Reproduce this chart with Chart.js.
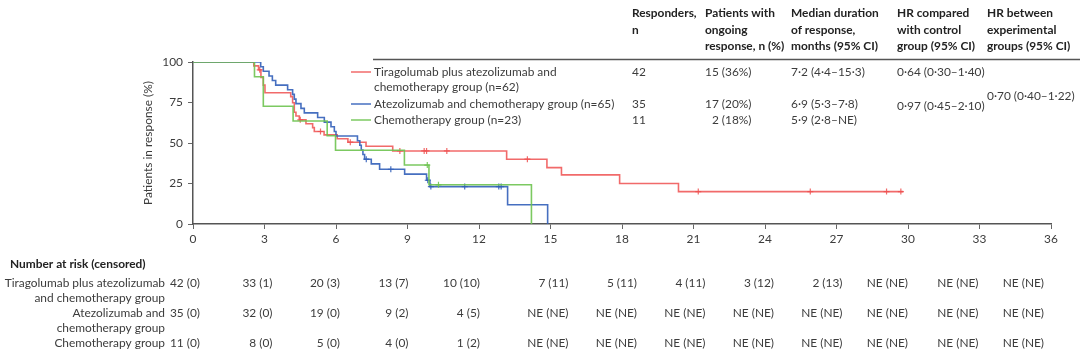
<!DOCTYPE html>
<html>
<head>
<meta charset="utf-8">
<script src="https://cdn.jsdelivr.net/npm/chart.js@4/dist/chart.umd.min.js"></script>
<style>
  html, body { margin: 0; padding: 0; background: #fff; }
  #wrap { width: 1080px; height: 361px; }
</style>
</head>
<body>
<div id="wrap"><canvas id="km" width="1080" height="361"></canvas></div>
<script>
// Kaplan-Meier steps (months, % still in response)
var tiraTime = [0, 2.55, 2.75, 2.85, 2.95, 3.02, 4.1, 4.18, 4.25, 4.32, 4.46, 4.74, 5.02, 5.09, 5.5, 6.05, 6.5, 7.26, 8.38, 13.16, 14.85, 15.46, 17.9, 20.37, 29.8];
var tiraPct  = [100, 97.6, 95.2, 90.5, 85.7, 81.0, 78.6, 74.8, 69.0, 66.7, 64.3, 61.9, 59.5, 57.1, 55.0, 52.6, 50.5, 48.0, 45.1, 40.0, 34.8, 30.3, 25.0, 20.0, 20.0];
var tiraCensTime = [2.8, 4.5, 5.35, 6.6, 8.68, 9.7, 9.8, 10.65, 14.03, 21.2, 25.9, 29.1, 29.7];
var tiraCensPct  = [95.2, 64.3, 57.1, 50.5, 45.1, 45.1, 45.1, 45.1, 40.0, 20.0, 20.0, 20.0, 20.0];

var atezoTime = [0, 2.84, 2.95, 3.19, 3.33, 3.47, 3.97, 4.18, 4.25, 4.32, 4.53, 4.67, 5.23, 5.51, 5.79, 5.93, 6.0, 6.9, 7.0, 7.06, 7.13, 7.2, 7.48, 7.83, 8.88, 9.8, 9.94, 13.2, 14.88];
var atezoPct  = [100, 97.1, 94.3, 91.4, 88.6, 85.7, 82.9, 80.0, 77.1, 74.3, 71.4, 68.6, 65.7, 62.9, 60.0, 57.1, 54.3, 51.4, 48.6, 45.7, 42.9, 40.0, 37.1, 33.8, 30.8, 27.0, 23.1, 11.9, 0];
var atezoCensTime = [7.27, 8.3, 9.85, 9.98, 11.4, 12.83, 12.93];
var atezoCensPct  = [40.0, 33.8, 27.0, 23.1, 23.1, 23.1, 23.1];

var chemoTime = [0, 2.58, 2.95, 4.2, 5.63, 5.98, 8.87, 9.9, 14.2];
var chemoPct  = [100, 90.9, 72.7, 63.6, 54.5, 45.5, 36.4, 24.2, 0];
var chemoCensTime = [9.83, 10.3];
var chemoCensPct  = [36.4, 24.2];

var riskTimes = [0, 3, 6, 9, 12, 15, 18, 21, 24, 27, 30, 33, 36];
var riskTira  = ['42 (0)', '33 (1)', '20 (3)', '13 (7)', '10 (10)', '7 (11)', '5 (11)', '4 (11)', '3 (12)', '2 (13)', 'NE (NE)', 'NE (NE)', 'NE (NE)'];
var riskAtezo = ['35 (0)', '32 (0)', '19 (0)', '9 (2)', '4 (5)', 'NE (NE)', 'NE (NE)', 'NE (NE)', 'NE (NE)', 'NE (NE)', 'NE (NE)', 'NE (NE)', 'NE (NE)'];
var riskChemo = ['11 (0)', '8 (0)', '5 (0)', '4 (0)', '1 (2)', 'NE (NE)', 'NE (NE)', 'NE (NE)', 'NE (NE)', 'NE (NE)', 'NE (NE)', 'NE (NE)', 'NE (NE)'];

var groupNames = ['Tiragolumab plus atezolizumab and|chemotherapy group (n=62)', 'Atezolizumab and chemotherapy group (n=65)', 'Chemotherapy group (n=23)'];
var responders = ['42', '35', '11'];
var ongoing    = ['15 (36%)', '17 (20%)', '\u20072 (18%)'];
var medianDur  = ['7\u00b72 (4\u00b74\u201315\u00b73)', '6\u00b79 (5\u00b73\u20137\u00b78)', '5\u00b79 (2\u00b78\u2013NE)'];
var hrControl  = ['0\u00b764 (0\u00b730\u20131\u00b740)', '0\u00b797 (0\u00b745\u20132\u00b710)', ''];
var hrBetween  = '0\u00b770 (0\u00b740\u20131\u00b722)';

var colRed = 'rgba(238, 80, 80, 0.85)';
var colBlue = 'rgba(50, 95, 185, 0.9)';
var colGreen = 'rgba(110, 195, 80, 0.9)';
var textCol = '#3c3c3c';
var family = 'Lato, "Liberation Sans", sans-serif';

// size the font so the first legend line is as wide as in the figure
var probe = document.createElement('canvas').getContext('2d');
probe.font = '100px ' + family;
var fs = 100 * 183 / probe.measureText('Tiragolumab plus atezolizumab and').width;
fs = Math.round(fs * 10) / 10;

function pts(t, p) {
    var out = [];
    for (var i = 0; i < t.length; i++) out.push({x: t[i], y: p[i]});
    return out;
}

function txt(ctx, s, x, y, align, bold, col) {
    ctx.font = (bold ? 'bold ' : '') + fs + 'px ' + family;
    ctx.fillStyle = col || textCol;
    ctx.textAlign = align || 'left';
    ctx.textBaseline = 'middle';
    ctx.fillText(s, x, y);
}

var extras = {
    id: 'extras',
    afterDraw: function(chart) {
        var ctx = chart.ctx;
        var xs = chart.scales.x;
        ctx.save();

        // y title
        ctx.save();
        ctx.translate(148, 143);
        ctx.rotate(-Math.PI / 2);
        txt(ctx, 'Patients in response (%)', 0, 0, 'center', false);
        ctx.restore();

        // header of the summary table
        var cx = [632, 705, 791, 897, 987];
        var heads = [
            ['Responders,', 'n'],
            ['Patients with', 'ongoing', 'response, n (%)'],
            ['Median duration', 'of response,', 'months (95% CI)'],
            ['HR compared', 'with control', 'group (95% CI)'],
            ['HR between', 'experimental', 'groups (95% CI)']
        ];
        var hy = [13, 30, 46];
        heads.forEach(function(h, i) {
            h.forEach(function(line, j) { txt(ctx, line, cx[i], hy[j], 'left', true, '#222'); });
        });
        ctx.strokeStyle = '#555';
        ctx.lineWidth = 1.5;
        ctx.beginPath();
        ctx.moveTo(373, 59.5);
        ctx.lineTo(1080, 59.5);
        ctx.stroke();

        // legend rows
        var cols = [colRed, colBlue, colGreen];
        var rowY = [72, 104, 120];
        for (var i = 0; i < 3; i++) {
            ctx.strokeStyle = cols[i];
            ctx.lineWidth = 1.5;
            ctx.beginPath();
            ctx.moveTo(351, rowY[i]);
            ctx.lineTo(371, rowY[i]);
            ctx.stroke();
            groupNames[i].split('|').forEach(function(line, j) {
                txt(ctx, line, 374, rowY[i] + j * 15.5, 'left', false);
            });
            txt(ctx, responders[i], cx[0], rowY[i], 'left', false);
            txt(ctx, ongoing[i], cx[1], rowY[i], 'left', false);
            txt(ctx, medianDur[i], cx[2], rowY[i], 'left', false);
            txt(ctx, hrControl[i], cx[3], rowY[i] + (i == 1 ? 2 : 0), 'left', false);
        }
        txt(ctx, hrBetween, cx[4], 96, 'left', false);

        // number at risk
        txt(ctx, 'Number at risk (censored)', 10, 264, 'left', true, '#222');
        txt(ctx, 'Tiragolumab plus atezolizumab', 165, 283, 'right', false);
        txt(ctx, 'and chemotherapy group', 165, 298, 'right', false);
        txt(ctx, 'Atezolizumab and', 165, 313, 'right', false);
        txt(ctx, 'chemotherapy group', 165, 328, 'right', false);
        txt(ctx, 'Chemotherapy group', 165, 343, 'right', false);
        var shift = [7, 8, 4, 1, 1, 18, 15, 12, 9, 6, 0, -1, -7];
        for (var k = 0; k < riskTimes.length; k++) {
            var rx = xs.getPixelForValue(riskTimes[k]) + shift[k];
            txt(ctx, riskTira[k], rx, 283, 'right', false);
            txt(ctx, riskAtezo[k], rx, 313, 'right', false);
            txt(ctx, riskChemo[k], rx, 343, 'right', false);
        }
        ctx.restore();
    }
};

function kmSet(t, p, col) {
    return {
        type: 'line', data: pts(t, p), borderColor: col, borderWidth: 1.6,
        stepped: true, pointRadius: 0, fill: false
    };
}
function censSet(t, p, col) {
    return {
        type: 'scatter', data: pts(t, p), borderColor: col, backgroundColor: col,
        pointStyle: 'cross', pointRadius: 3, borderWidth: 1.2
    };
}

var tickFont = {family: family, size: fs};

new Chart(document.getElementById('km'), {
    type: 'line',
    data: {
        datasets: [
            censSet(chemoCensTime, chemoCensPct, colGreen),
            kmSet(chemoTime, chemoPct, colGreen),
            censSet(atezoCensTime, atezoCensPct, colBlue),
            kmSet(atezoTime, atezoPct, colBlue),
            censSet(tiraCensTime, tiraCensPct, colRed),
            kmSet(tiraTime, tiraPct, colRed)
        ]
    },
    options: {
        responsive: false,
        animation: false,
        devicePixelRatio: 1,
        layout: {padding: {top: 62, right: 29, bottom: 0, left: 0}},
        plugins: {legend: {display: false}, tooltip: {enabled: false}},
        scales: {
            x: {
                type: 'linear', min: 0, max: 36,
                ticks: {stepSize: 3, color: textCol, font: tickFont, padding: 3, maxRotation: 0},
                grid: {drawOnChartArea: false, drawTicks: true, tickLength: 5, color: '#666'},
                border: {color: '#555', width: 1.5},
                afterFit: function(s) { s.height = 137; }
            },
            y: {
                min: 0, max: 100,
                ticks: {stepSize: 25, color: textCol, font: tickFont, padding: 5},
                grid: {drawOnChartArea: false, drawTicks: true, tickLength: 5, color: '#666'},
                border: {color: '#555', width: 1.5},
                afterFit: function(s) { s.width = 193; }
            }
        }
    },
    plugins: [extras]
});
</script>
</body>
</html>
